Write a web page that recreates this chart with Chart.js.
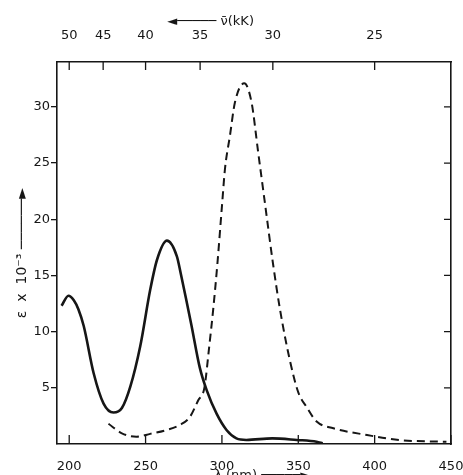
<!DOCTYPE html>
<html lang="en">
<head>
  <meta charset="UTF-8" />
  <title>Absorption spectra</title>
  <script src="https://cdn.jsdelivr.net/npm/chart.js"></script>
  <style>
    html, body {
      margin: 0;
      padding: 0;
      overflow: hidden;
      background: #fff;
    }
    canvas {
      display: block;
    }
  </style>
</head>
<body>
  <canvas id="spectrum" width="463" height="475"></canvas>

  <script>
    // wavelength (nm) and epsilon x 10^-3
    const solidNm  = [195, 199.5, 203, 206, 209.5, 216, 222.5, 229, 234.5, 240, 246.5, 253, 257.5, 264, 270.5, 273, 277, 280, 285.5, 290, 296.5, 303, 309.5, 316, 333, 349, 362, 366];
    const solidEps = [12.3, 13.2, 12.8, 12.0, 10.5, 6.3, 3.6, 2.8, 3.2, 5.1, 8.7, 13.7, 16.4, 18.1, 16.7, 15.2, 12.6, 10.6, 6.8, 4.8, 2.7, 1.25, 0.5, 0.36, 0.5, 0.36, 0.2, 0.05];

    const dashNm  = [225.7, 234.5, 244, 253, 264, 272.5, 279, 284.5, 288.5, 291.7, 294.3, 297, 300.2, 302, 305.2, 308.5, 314.6, 319.4, 323.7, 328.1, 333.5, 338, 344.4, 350, 355.4, 362, 373, 395, 416, 447];
    const dashEps = [1.8, 0.95, 0.65, 0.9, 1.25, 1.7, 2.4, 3.9, 5.0, 8.7, 12.0, 16.0, 21.5, 24.5, 27.4, 30.4, 32.1, 30.4, 26.0, 21.5, 16.0, 12.0, 7.5, 4.6, 3.3, 2.0, 1.4, 0.8, 0.35, 0.2];

    const bottomTicks = [200, 250, 300, 350, 400, 450];
    const topTicksKK  = [50, 45, 40, 35, 30, 25];
    const yTicks      = [5, 10, 15, 20, 25, 30];

    const ink = '#161616';
    const font = { family: 'DejaVu Sans', size: 13 };

    const toPoints = (xs, ys) => xs.map((x, i) => ({ x: x, y: ys[i] }));

    // fixed box sizes so the frame lands where it is in the figure
    const fixHeight = h => s => { s.height = h; s.paddingLeft = 0; s.paddingRight = 0; };
    const fixWidth = w => s => { s.width = w; s.paddingTop = 0; s.paddingBottom = 0; };

    // short tick marks pointing into the plot (bottom, top, right)
    const inwardTicks = {
      id: 'inwardTicks',
      afterDraw(chart) {
        const { ctx, chartArea: a, scales } = chart;
        ctx.save();
        ctx.strokeStyle = ink;
        ctx.lineWidth = 1.3;
        ctx.beginPath();
        scales.x.ticks.forEach(t => {
          const px = scales.x.getPixelForValue(t.value);
          ctx.moveTo(px, a.bottom);
          ctx.lineTo(px, a.bottom - 9);
        });
        scales.x2.ticks.forEach(t => {
          const px = scales.x2.getPixelForValue(t.value);
          ctx.moveTo(px, a.top);
          ctx.lineTo(px, a.top + 8);
        });
        scales.y2.ticks.forEach(t => {
          const py = scales.y2.getPixelForValue(t.value);
          ctx.moveTo(a.right, py);
          ctx.lineTo(a.right - 7, py);
        });
        ctx.stroke();
        ctx.restore();
      }
    };

    new Chart(document.getElementById('spectrum'), {
      type: 'line',
      data: {
        datasets: [
          {
            label: 'solid',
            data: toPoints(solidNm, solidEps),
            borderColor: ink,
            borderWidth: 2.6,
            pointRadius: 0,
            fill: false,
            cubicInterpolationMode: 'monotone'
          },
          {
            label: 'dashed',
            data: toPoints(dashNm, dashEps),
            borderColor: ink,
            borderWidth: 2,
            borderDash: [8, 5],
            pointRadius: 0,
            fill: false,
            cubicInterpolationMode: 'monotone'
          }
        ]
      },
      options: {
        animation: false,
        responsive: false,
        layout: { padding: 0 },
        plugins: {
          legend: { display: false },
          tooltip: { enabled: false }
        },
        scales: {
          x: {
            type: 'linear',
            position: 'bottom',
            min: 192,
            max: 450,
            afterBuildTicks: s => { s.ticks = bottomTicks.map(v => ({ value: v })); },
            afterFit: fixHeight(31),
            grid: { display: false },
            border: { color: ink, width: 1.6 },
            ticks: { color: ink, font: font, padding: 7, maxRotation: 0 },
            title: {
              display: true,
              text: '    λ (nm) ─────►',
              color: ink,
              font: font,
              padding: { top: 0, bottom: -8 }
            }
          },
          x2: {
            type: 'linear',
            position: 'top',
            min: 192,
            max: 450,
            afterBuildTicks: s => { s.ticks = topTicksKK.map(k => ({ value: 10000 / k })); },
            afterFit: fixHeight(62),
            grid: { display: false },
            border: { color: ink, width: 1.6 },
            ticks: { color: ink, font: font, padding: 11, maxRotation: 0, callback: (v, i) => topTicksKK[i] },
            title: {
              display: true,
              text: '◄───── ν̄(kK)'.padEnd(34, ' '),
              color: ink,
              font: font,
              padding: { top: 14, bottom: 0 }
            }
          },
          y: {
            type: 'linear',
            position: 'left',
            min: 0,
            max: 34,
            afterBuildTicks: s => { s.ticks = yTicks.map(v => ({ value: v })); },
            afterFit: fixWidth(57),
            grid: { drawOnChartArea: false, tickLength: 6, color: ink, lineWidth: 1.3 },
            border: { color: ink, width: 1.6 },
            ticks: { color: ink, font: font, padding: 1 },
            title: {
              display: true,
              text: 'ε  x  10⁻³ ──────►',
              color: ink,
              font: { family: 'DejaVu Sans', size: 14 },
              padding: { top: 14, bottom: 0 }
            }
          },
          y2: {
            type: 'linear',
            position: 'right',
            min: 0,
            max: 34,
            afterBuildTicks: s => { s.ticks = yTicks.map(v => ({ value: v })); },
            afterFit: fixWidth(12),
            grid: { display: false },
            border: { color: ink, width: 1.6 },
            ticks: { display: false }
          }
        }
      },
      plugins: [inwardTicks]
    });
  </script>
</body>
</html>
